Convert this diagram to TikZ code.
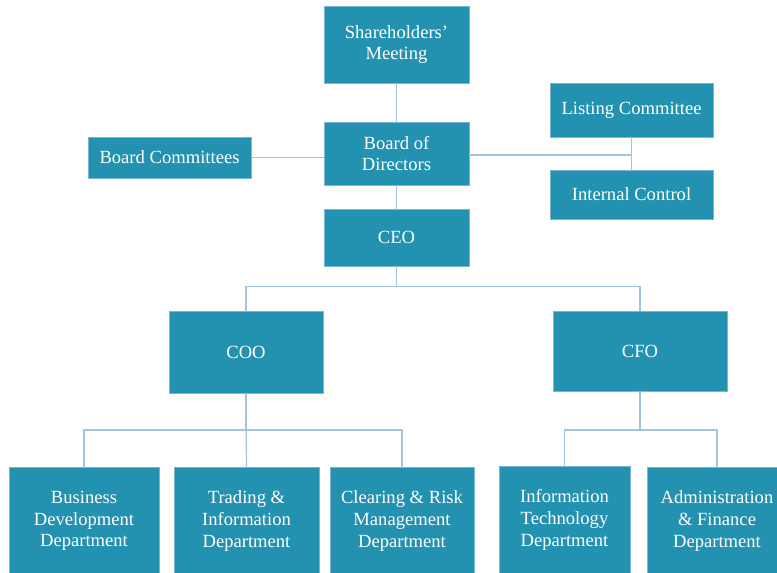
\documentclass[tikz,border=0pt]{standalone}
\usepackage{fontspec}
\setmainfont{Liberation Serif}
\usetikzlibrary{positioning, calc}
\definecolor{boxteal}{RGB}{35,145,176}
\definecolor{linkblue}{RGB}{160,196,230}
\tikzset{
  unit/.style={rectangle, fill=boxteal, draw=linkblue!70!boxteal, line width=0.6pt, text=white, align=center,
    font=\fontsize{18.6}{21.6}\selectfont, inner sep=0pt},
  link/.style={draw=linkblue, line width=1.3pt},
}

\begin{document}
\begin{tikzpicture}[x=1pt, y=-1pt]
    \useasboundingbox (0,0) rectangle (777,573);
    \clip (0,0) rectangle (777,573);
    % top of the chart
    \node[unit, minimum width=145pt, minimum height=77pt] (shareholders) at (396.5,44.5) {Shareholders'\\Meeting};
    \node[unit, minimum width=145pt, minimum height=63pt] (board) at (396.5,153.5) {Board of\\Directors};
    \node[unit, minimum width=145pt, minimum height=57pt] (ceo) at (396.5,237.5) {CEO};
    \node[unit, minimum width=163pt, minimum height=41pt] (committees) at (169.5,157.5) {Board Committees};
    \node[unit, minimum width=163pt, minimum height=54pt] (listing) at (631.5,110) {Listing Committee};
    \node[unit, minimum width=163pt, minimum height=49pt] (control) at (631.5,194.5) {Internal Control};
    % officers
    \node[unit, minimum width=154pt, minimum height=82pt] (coo) at (246,352) {COO};
    \node[unit, minimum width=174pt, minimum height=80pt] (cfo) at (640,351) {CFO};
    % departments
    \node[unit, minimum width=150pt, minimum height=108pt] (busdev) at (84,521) {Business\\Development\\Department};
    \node[unit, minimum width=145pt, minimum height=108pt] (trading) at (246.5,521) {Trading \&\\Information\\Department};
    \node[unit, minimum width=144pt, minimum height=108pt] (clearing) at (402,521) {Clearing \& Risk\\Management\\Department};
    \node[unit, minimum width=131pt, minimum height=108pt] (itdept) at (564.5,520) {Information\\Technology\\Department};
    \node[unit, minimum width=140pt, minimum height=108pt] (admin) at (717,521) {Administration\\\& Finance\\Department};

    % connectors
    \draw[link] (shareholders) -- (board);
    \draw[link] (board) -- (ceo);
    \draw[link] (committees.east) -- (committees.east -| board.west);
    \draw[link] (listing) -- (control);
    \draw[link] (board.east |- 0,155) -- (listing.south |- 0,155);
    \draw[link] (ceo.south) -- ++(0,20) -| (coo.north);
    \draw[link] (ceo.south) -- ++(0,20) -| (cfo.north);
    \draw[link] (coo.south) -- (coo.south |- 0,430) -| (busdev.north);
    \draw[link] (coo.south) -- (coo.south |- 0,430) -| (clearing.north);
    \draw[link] (coo.south) -- (trading.north);
    \draw[link] (cfo.south) -- (cfo.south |- 0,430) -| (itdept.north);
    \draw[link] (cfo.south) -- (cfo.south |- 0,430) -| (admin.north);
\end{tikzpicture}
\end{document}
